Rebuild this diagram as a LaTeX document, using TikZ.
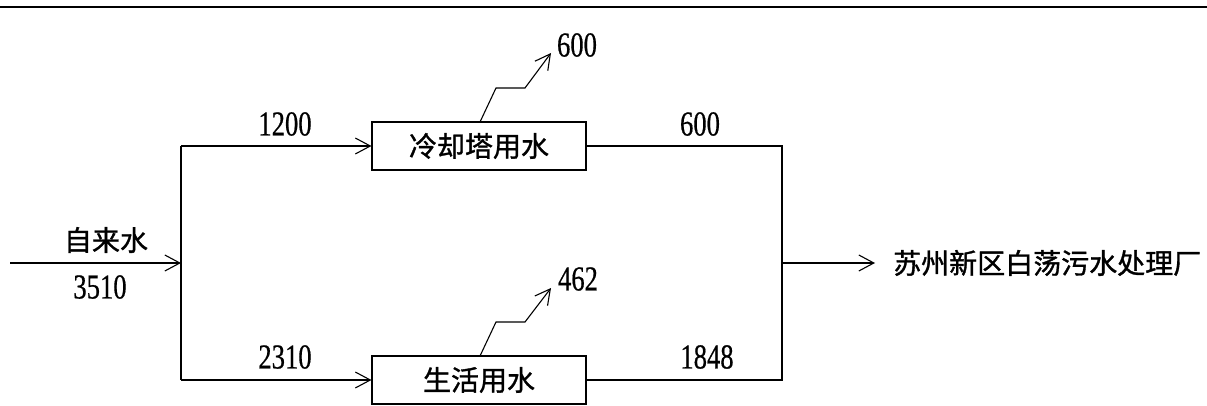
\documentclass[tikz,border=0pt]{standalone}
\usepackage{fontspec}
\setmainfont{Liberation Serif}[FakeBold=0.6]
\newfontfamily\cjk{Noto Sans CJK SC}[FakeBold=1.2]
\usetikzlibrary{arrows.meta}
\begin{document}
\begin{tikzpicture}[x=1pt,y=-1pt,
  line/.style={line width=1.1pt,black},
  arr/.style={line, -{Straight Barb[length=15pt,width=16pt,line width=1.1pt]}},
  proc/.style={draw,line width=1.1pt,minimum width=214pt,minimum height=48pt,inner sep=0pt,font=\cjk\fontsize{28}{30}\selectfont},
  num/.style={inner sep=0pt,font=\fontsize{35}{36}\selectfont,xscale=0.76},
  zh/.style={inner sep=0pt,font=\cjk\fontsize{28}{30}\selectfont}]
\useasboundingbox (0,0) rectangle (1207,406);
\draw[line width=2pt] (0,7) -- (1207,7);
% boxes
\node[proc] (cool) at (479,146) {冷却塔用水};
\node[proc] (life) at (479,380) {生活用水};
% junctions
\coordinate (src) at (10,263);
\coordinate (jl) at (181,263);
\coordinate (jlt) at (181,146);
\coordinate (jlb) at (181,380);
\coordinate (jr) at (782,263);
\coordinate (jrt) at (782,146);
\coordinate (jrb) at (782,380);
\node[zh,anchor=west] (plant) at (893,263) {苏州新区白荡污水处理厂};
% input
\draw[arr] (src) -- (jl);
\draw[line] (jlt) -- (jlb);
\draw[arr] (jlt) -- (cool.west);
\draw[arr] (jlb) -- (life.west);
% output
\draw[line] (cool.east) -- (jrt) -- (jrb) -- (life.east);
\draw[arr] (jr) -- (875,263) coordinate (outtip);
% evaporation arrows
\coordinate (e1) at (551,53);
\coordinate (e2) at (551,288);
\draw[arr] (480,122) -- (496,88) -- (525,88) -- (e1);
\draw[arr] (480,356) -- (496,322) -- (525,322) -- (e2);
% labels
\node[zh] (lsrc) at (106,240) {自来水};
\node[num] (n3510) at (100,287) {3510};
\node[num] (n1200) at (285,124) {1200};
\node[num] (n600r) at (700,124) {600};
\node[num] (n2310) at (285,357) {2310};
\node[num] (n1848) at (707,357) {1848};
\node[num] (n600e) at (577,45) {600};
\node[num] (n462) at (578,279) {462};
\end{tikzpicture}
\end{document}
